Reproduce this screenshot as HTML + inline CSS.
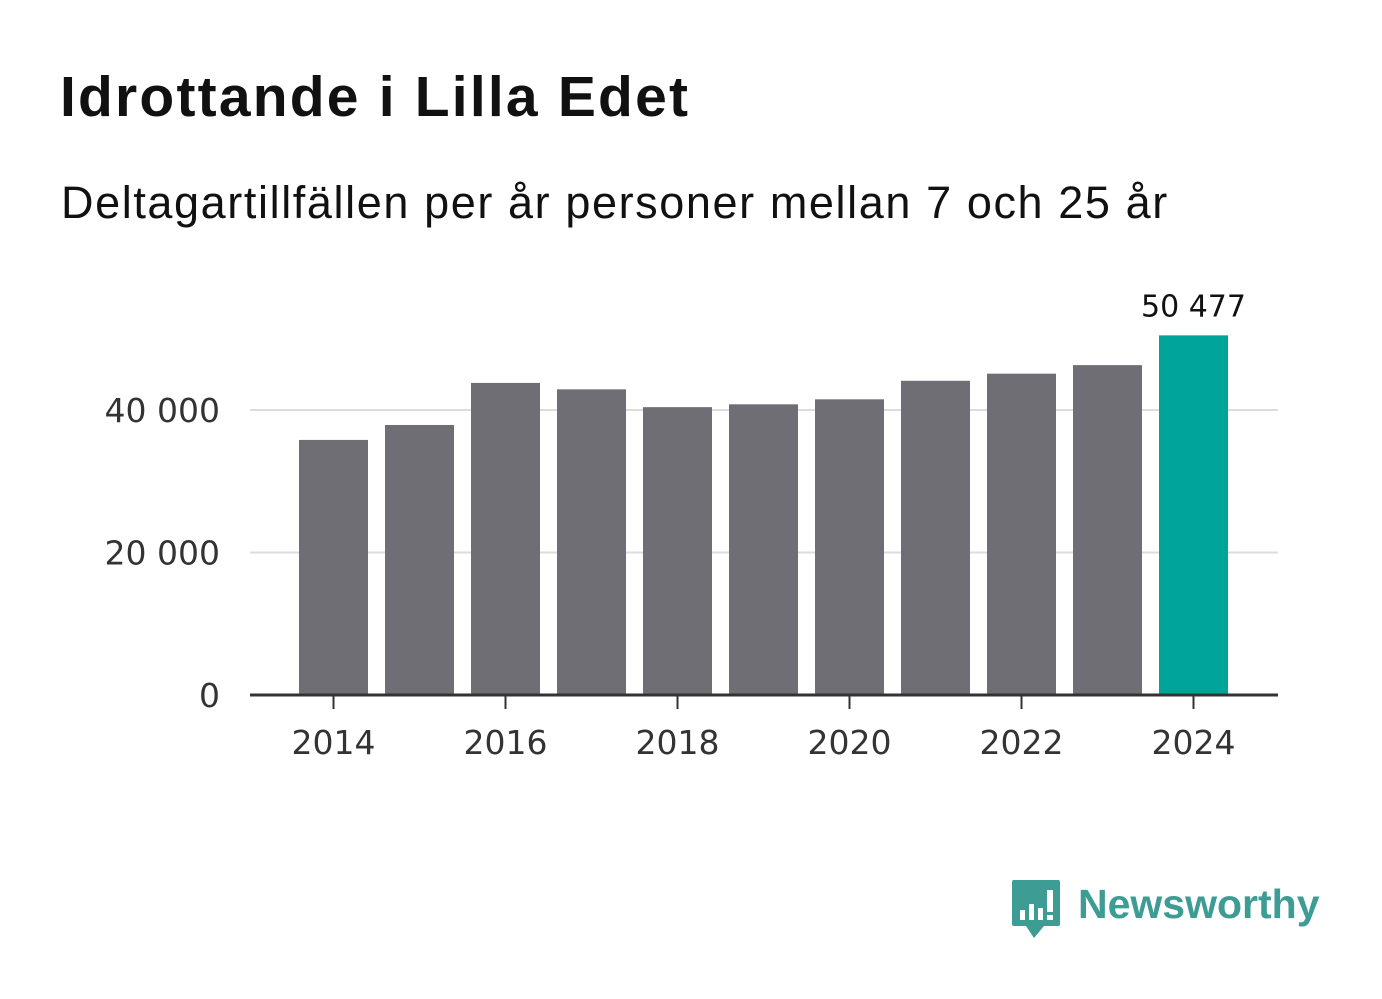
<!DOCTYPE html>
<html><head><meta charset="utf-8"><style>
body{margin:0;width:1382px;height:999px;background:#fff;font-family:"DejaVu Sans","Liberation Sans",sans-serif;overflow:hidden;position:relative}
#title{position:absolute;left:60px;top:64px;font-size:57px;font-weight:bold;color:#111;font-family:"Liberation Sans",sans-serif;letter-spacing:2.2px;white-space:nowrap}
#sub{position:absolute;left:61px;top:177px;font-size:45px;color:#111;font-family:"Liberation Sans",sans-serif;letter-spacing:1.6px;white-space:nowrap}
svg{position:absolute;left:0;top:0}
</style></head><body>
<div id="title">Idrottande i Lilla Edet</div>
<div id="sub">Deltagartillfällen per år personer mellan 7 och 25 år</div>
<svg id="chart" width="1382" height="999"></svg>
<div style="position:absolute;left:1012px;top:880px;">
<svg width="310" height="60" style="position:static">
<path d="M0 2 Q0 0 2 0 L46 0 Q48 0 48 2 L48 44 Q48 46 46 46 L32 46 L22 58 L14 46 L2 46 Q0 46 0 44Z" fill="#3d9c94"/>
<rect x="8" y="30" width="5" height="10" fill="#fff"/><rect x="17" y="24" width="5" height="16" fill="#fff"/><rect x="26" y="28" width="5" height="12" fill="#fff"/><rect x="35" y="10" width="6" height="22" fill="#fff"/><rect x="35" y="35" width="6" height="5" fill="#fff"/>
<text x="66" y="38" font-family="Liberation Sans,sans-serif" font-weight="bold" font-size="41" fill="#3d9c94">Newsworthy</text>
</svg></div>
<script>
const years=[2014,2015,2016,2017,2018,2019,2020,2021,2022,2023,2024];
const values=[35800,37900,43800,42900,40400,40800,41500,44100,45100,46300,50477];
const yTicks=[0,20000,40000];
const yTickLabels=["0","20 000","40 000"];
const xTickYears=[2014,2016,2018,2020,2022,2024];
const NS="http://www.w3.org/2000/svg";
const svg=document.getElementById('chart');
const y0=695,pxPer=285/40000;
const y=v=>y0-v*pxPer;
const xc=yr=>333.5+(yr-2014)*86;
const bw=69;
function el(t,a){const e=document.createElementNS(NS,t);for(const k in a)e.setAttribute(k,a[k]);svg.appendChild(e);return e;}
yTicks.forEach((t,i)=>{
 if(t>0){const g=el('line',{x1:250,x2:1278,y1:y(t),y2:y(t),stroke:'#dcdcdc','stroke-width':2});
 
 }
 const l=el('text',{x:220,y:y(t)+12,'text-anchor':'end','font-size':33,fill:'#333'});
 
 
 l.textContent=yTickLabels[i];
});
years.forEach((yr,i)=>{
 const last=i===years.length-1;
 const r=el('rect',{x:xc(yr)-bw/2,y:y(values[i]),width:bw,height:y0-y(values[i]),fill:last?'#00a499':'#6f6e74'});
 
 
});
const li=years.length-1;
const vl=el('text',{x:xc(years[li]),y:y(values[li])-19,'text-anchor':'middle','font-size':30,fill:'#111'});


vl.textContent=values[li].toString().replace(/\B(?=(\d{3})+(?!\d))/g,' ');
const ax=el('line',{x1:250,x2:1278,y1:y0,y2:y0,stroke:'#333','stroke-width':3});


xTickYears.forEach(yr=>{
 const t=el('line',{x1:xc(yr),x2:xc(yr),y1:y0,y2:y0+14,stroke:'#333','stroke-width':2});
 
 
 const l=el('text',{x:xc(yr),y:754,'text-anchor':'middle','font-size':33,fill:'#333'});
 
 
 l.textContent=yr;
});
</script>
</body></html>
